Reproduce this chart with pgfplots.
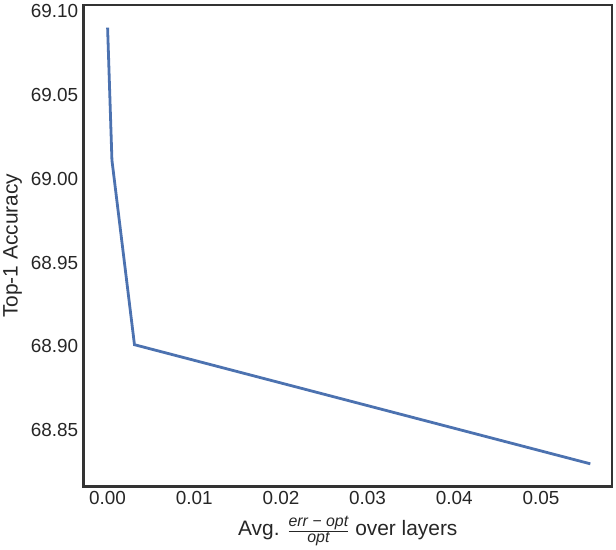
\documentclass[border=0pt]{standalone}
\usepackage{fontspec}
\setmainfont{Liberation Sans}
\usepackage{pgfplots}
\pgfplotsset{compat=1.18}
\definecolor{sbblue}{HTML}{4C72B0}
\definecolor{framegray}{HTML}{333333}
\begin{document}
\begin{tikzpicture}
\begin{axis}[
    scale only axis,
    width=529bp, height=482bp,
    xmin=-0.00277, xmax=0.0582,
    ymin=68.8165, ymax=69.1035,
    xtick={0,0.01,0.02,0.03,0.04,0.05},
    ytick={68.85,68.90,68.95,69.00,69.05,69.10},
    /pgf/number format/assume math mode=true,
    scaled x ticks=false, scaled y ticks=false,
    xticklabel style={/pgf/number format/fixed, /pgf/number format/fixed zerofill, /pgf/number format/precision=2, yshift=-1bp},
    yticklabel style={/pgf/number format/fixed, /pgf/number format/fixed zerofill, /pgf/number format/precision=2, xshift=-2bp},
    major tick length=0pt,
    tick label style={font=\fontsize{19}{22}\selectfont, text=black!85},
    label style={font=\fontsize{21}{24}\selectfont, text=black!85},
    axis line style={framegray, line width=2.2bp},
    ylabel={Top-1 Accuracy},
    xlabel={Avg. $\frac{\mbox{\fontsize{16}{17}\selectfont\itshape err − opt}}{\mbox{\fontsize{16}{17}\selectfont\itshape opt}}$ over layers},
    ylabel style={at={(axis description cs:0,0.5)}, anchor=center, yshift=71bp},
    xlabel style={at={(axis description cs:0.5,0)}, anchor=center, yshift=-45bp},
]
\addplot[sbblue, line width=2.8bp, no markers] coordinates {
    (0.0000, 69.090)
    (0.0005, 69.011)
    (0.0031, 68.901)
    (0.0557, 68.830)
};
\end{axis}
\path (current axis.south west) ++(-83bp,-63bp) rectangle ++(616bp,550bp);
\end{tikzpicture}
\end{document}
